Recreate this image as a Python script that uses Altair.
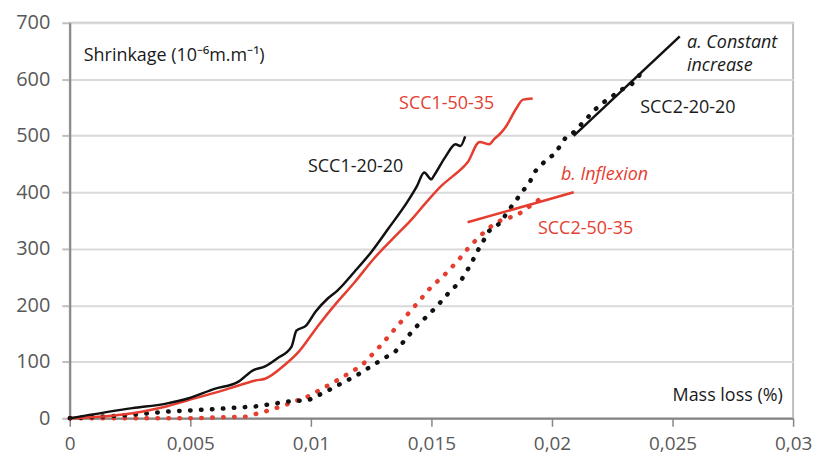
import altair as alt
import pandas as pd

# ---------------- data ----------------
scc1_20_20_x = [0, 0.0026, 0.0040, 0.0049, 0.0060, 0.0070, 0.0076, 0.0081, 0.0086, 0.0092, 0.0094,
                0.0098, 0.0102, 0.0107, 0.0111, 0.0118, 0.0125, 0.0132, 0.0140, 0.0144, 0.0147,
                0.0150, 0.0151, 0.0156, 0.0160, 0.0162, 0.0164]
scc1_20_20_y = [0, 18, 26, 35, 52, 65, 85, 92, 106, 127, 155, 164, 189, 212, 226, 259, 294, 335,
                383, 411, 435, 423, 429, 464, 485, 482, 499]

scc1_50_35_x = [0, 0.0026, 0.0040, 0.0049, 0.0060, 0.0070, 0.0077, 0.0081, 0.0089, 0.0095, 0.0103,
                0.0111, 0.0118, 0.0126, 0.0134, 0.0142, 0.0148, 0.0154, 0.0159, 0.0165, 0.0170,
                0.0174, 0.0176, 0.0179, 0.0181, 0.0185, 0.0188, 0.0192]
scc1_50_35_y = [0, 9, 21, 32, 45, 58, 67, 70, 94, 118, 164, 206, 240, 282, 318, 353, 383, 411,
                429, 453, 489, 485, 494, 506, 517, 547, 564, 566]

scc2_20_20_x = [0, 0.0022, 0.0041, 0.0059, 0.0077, 0.0091, 0.0099, 0.0107, 0.0119, 0.0128, 0.0135,
                0.0143, 0.0152, 0.0158, 0.0162, 0.0166, 0.0170, 0.0174, 0.0179, 0.0181, 0.0186,
                0.0191, 0.0193, 0.0198, 0.0201, 0.0206, 0.0209, 0.0218, 0.0222, 0.0229, 0.0233,
                0.0236, 0.0238]
scc2_20_20_y = [0, 5, 12, 16, 21, 30, 32, 49, 76, 100, 118, 159, 197, 226, 242, 270, 303, 332,
                347, 362, 391, 420, 437, 459, 467, 499, 506, 547, 561, 582, 591, 605, 621]

scc2_50_35_x = [0, 0.0022, 0.0049, 0.0073, 0.0081, 0.0089, 0.0099, 0.0110, 0.0121, 0.0129, 0.0136,
                0.0144, 0.0150, 0.0155, 0.0161, 0.0166, 0.0172, 0.0176, 0.0180, 0.0185, 0.0190,
                0.0195]
scc2_50_35_y = [0, 0, 0, 3, 12, 23, 39, 65, 93, 129, 164, 203, 233, 252, 279, 305, 330, 344, 353,
                358, 373, 388]

trend_a_x = [0.0209, 0.0253]
trend_a_y = [500, 676]
trend_b_x = [0.0165, 0.0209]
trend_b_y = [347, 400]

x_ticks = [0, 0.005, 0.01, 0.015, 0.02, 0.025, 0.03]
y_ticks = [0, 100, 200, 300, 400, 500, 600, 700]

label_text = ["Shrinkage (10\u207b\u2076m.m\u207b\u00b9)", "SCC1-20-20", "SCC1-50-35", "SCC2-20-20",
              "SCC2-50-35", "Mass loss (%)"]
label_x = [0.00058, 0.00988, 0.01366, 0.02366, 0.01942, 0.0250]
label_y = [642, 444, 557, 550, 335, 39]
label_color = ["#1a1a1a", "#1a1a1a", "#e53d2f", "#1a1a1a", "#e53d2f", "#1a1a1a"]

note_text = ["a. Constant", "increase", "b. Inflexion"]
note_x = [0.0256, 0.0256, 0.02037]
note_y = [665, 623, 430]
note_color = ["#1a1a1a", "#1a1a1a", "#e53d2f"]

RED = "#e53d2f"
BLACK = "#111111"
FONT = "Open Sans"

xs = alt.Scale(domain=[0, 0.03], nice=False)
ys = alt.Scale(domain=[0, 700], nice=False)


def df(x, y):
    return pd.DataFrame({"x": x, "y": y})


X = alt.X("x:Q", scale=xs, axis=alt.Axis(
    values=x_ticks, title=None, grid=False, labelExpr="replace(toString(datum.value), '.', ',')",
    domainColor="#868686", domainWidth=2, tickColor="#868686", tickWidth=1.5, tickSize=8,
    labelColor="#595959", labelFontSize=19, labelFont=FONT, labelPadding=8,
    labelFlush=False, labelOverlap=False))
Y = alt.Y("y:Q", scale=ys, axis=alt.Axis(
    values=y_ticks, title=None, grid=True, gridColor="#d9d9d9", gridWidth=2,
    domainColor="#868686", domainWidth=2, tickColor="#bfbfbf", tickWidth=2, tickSize=8,
    labelColor="#595959", labelFontSize=20, labelFont=FONT, labelPadding=12))

base_axes = alt.Chart(df(x_ticks[:1], y_ticks[:1])).mark_point(opacity=0).encode(x=X, y=Y)

x_enc = alt.X("x:Q", scale=xs)
y_enc = alt.Y("y:Q", scale=ys)

red_dot = alt.Chart(df(scc2_50_35_x, scc2_50_35_y)).mark_line(
    color=RED, strokeWidth=4.5, strokeDash=[0.5, 10.5], strokeCap="round"
).encode(x=x_enc, y=y_enc, order="x:Q")
black_dot = alt.Chart(df(scc2_20_20_x, scc2_20_20_y)).mark_line(
    color=BLACK, strokeWidth=4.5, strokeDash=[0.5, 10.5], strokeCap="round"
).encode(x=x_enc, y=y_enc, order="x:Q")
red_line = alt.Chart(df(scc1_50_35_x, scc1_50_35_y)).mark_line(
    color=RED, strokeWidth=2.5, interpolate="monotone"
).encode(x=x_enc, y=y_enc, order="x:Q")
black_line = alt.Chart(df(scc1_20_20_x, scc1_20_20_y)).mark_line(
    color=BLACK, strokeWidth=2.5, interpolate="monotone"
).encode(x=x_enc, y=y_enc, order="x:Q")
trend_a = alt.Chart(df(trend_a_x, trend_a_y)).mark_line(
    color=BLACK, strokeWidth=2.5).encode(x=x_enc, y=y_enc)
trend_b = alt.Chart(df(trend_b_x, trend_b_y)).mark_line(
    color=RED, strokeWidth=2.5).encode(x=x_enc, y=y_enc)

labels = alt.Chart(pd.DataFrame({"x": label_x, "y": label_y, "t": label_text, "c": label_color})).mark_text(
    align="left", baseline="middle", font=FONT, fontSize=18
).encode(x=x_enc, y=y_enc, text="t:N", color=alt.Color("c:N", scale=None))

notes = alt.Chart(pd.DataFrame({"x": note_x, "y": note_y, "t": note_text, "c": note_color})).mark_text(
    align="left", baseline="middle", font=FONT, fontSize=18, fontStyle="italic"
).encode(x=x_enc, y=y_enc, text="t:N", color=alt.Color("c:N", scale=None))

chart = alt.layer(
    base_axes, red_dot, black_dot, red_line, black_line, trend_a, trend_b, labels, notes
).properties(
    width=726, height=397,
    autosize=alt.AutoSizeParams(type="none"),
    padding={"left": 62, "top": 14, "right": 24, "bottom": 38},
    background="white",
).configure_view(stroke="#bfbfbf", strokeWidth=2)

chart.save("out.html", embed_options={"renderer": "svg", "actions": False})
